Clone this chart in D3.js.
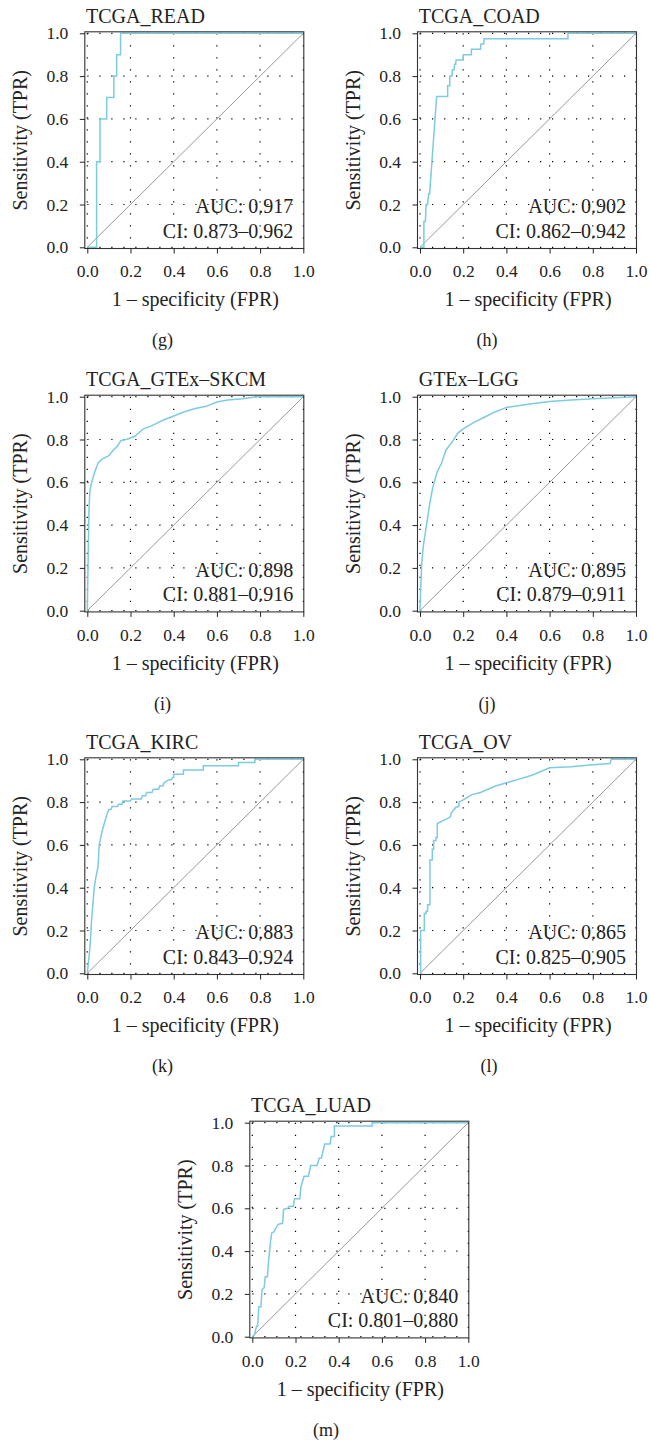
<!DOCTYPE html>
<html>
<head>
<meta charset="utf-8">
<script src="https://cdn.jsdelivr.net/npm/d3@7"></script>
<style>
  body { margin: 0; background: #fff; }
  svg { display: block; font-family: "Liberation Serif", "Times New Roman", serif; }
</style>
</head>
<body>
<svg id="chart" width="650" height="1442"></svg>
<script>
// ROC curves (fpr = 1 - specificity, tpr = sensitivity)
const readFpr = [0, 0.043, 0.043, 0.059, 0.059, 0.09, 0.09, 0.123, 0.123, 0.136, 0.136, 0.154, 0.154, 1];
const readTpr = [0, 0, 0.4, 0.4, 0.6, 0.6, 0.7, 0.7, 0.8, 0.8, 0.9, 0.9, 1, 1];

const coadFpr = [0, 0.018, 0.018, 0.025, 0.028, 0.035, 0.04, 0.045, 0.048, 0.077, 0.128, 0.128, 0.138, 0.138, 0.148, 0.15, 0.158, 0.16, 0.165, 0.167, 0.2, 0.2, 0.238, 0.238, 0.28, 0.282, 0.295, 0.297, 0.685, 0.685, 1];
const coadTpr = [0, 0, 0.12, 0.12, 0.2, 0.2, 0.25, 0.25, 0.3, 0.705, 0.705, 0.755, 0.755, 0.8, 0.8, 0.83, 0.83, 0.855, 0.855, 0.875, 0.875, 0.9, 0.9, 0.925, 0.925, 0.95, 0.95, 0.975, 0.975, 1, 1];

const skcmFpr = [0, 0.004, 0.008, 0.012, 0.02, 0.035, 0.05, 0.07, 0.1, 0.12, 0.14, 0.155, 0.18, 0.22, 0.26, 0.3, 0.35, 0.4, 0.45, 0.5, 0.55, 0.6, 0.65, 0.72, 0.75, 0.79, 1];
const skcmTpr = [0, 0.25, 0.48, 0.56, 0.6, 0.65, 0.69, 0.71, 0.725, 0.75, 0.77, 0.795, 0.8, 0.815, 0.85, 0.865, 0.89, 0.91, 0.93, 0.945, 0.955, 0.975, 0.985, 0.99, 0.995, 1, 1];

const lggFpr = [0, 0.004, 0.008, 0.015, 0.03, 0.045, 0.06, 0.08, 0.1, 0.12, 0.15, 0.175, 0.2, 0.25, 0.3, 0.35, 0.4, 0.5, 0.6, 0.7, 0.8, 0.9, 1];
const lggTpr = [0, 0.12, 0.22, 0.3, 0.4, 0.5, 0.58, 0.65, 0.69, 0.75, 0.79, 0.83, 0.85, 0.88, 0.905, 0.93, 0.95, 0.965, 0.978, 0.985, 0.99, 0.995, 1];

const kircFpr = [0, 0.012, 0.02, 0.032, 0.04, 0.05, 0.055, 0.07, 0.09, 0.1, 0.11, 0.115, 0.14, 0.145, 0.16, 0.165, 0.2, 0.205, 0.25, 0.255, 0.27, 0.275, 0.3, 0.305, 0.33, 0.335, 0.35, 0.355, 0.37, 0.38, 0.39, 0.395, 0.4, 0.4, 0.445, 0.445, 0.537, 0.537, 0.7, 0.7, 0.776, 0.776, 1];
const kircTpr = [0, 0.117, 0.25, 0.4, 0.45, 0.5, 0.6, 0.67, 0.74, 0.765, 0.765, 0.78, 0.78, 0.79, 0.79, 0.805, 0.805, 0.815, 0.815, 0.83, 0.83, 0.845, 0.845, 0.86, 0.86, 0.875, 0.875, 0.89, 0.9, 0.905, 0.905, 0.915, 0.915, 0.93, 0.93, 0.95, 0.95, 0.97, 0.97, 0.985, 0.985, 1, 1];

const ovFpr = [0, 0.003, 0.003, 0.02, 0.02, 0.028, 0.028, 0.035, 0.035, 0.046, 0.046, 0.057, 0.057, 0.063, 0.063, 0.074, 0.074, 0.08, 0.08, 0.14, 0.145, 0.165, 0.18, 0.18, 0.2, 0.24, 0.28, 0.35, 0.4, 0.45, 0.5, 0.53, 0.6, 0.7, 0.8, 0.88, 0.885, 1];
const ovTpr = [0, 0, 0.2, 0.2, 0.28, 0.28, 0.29, 0.29, 0.32, 0.32, 0.53, 0.53, 0.58, 0.58, 0.62, 0.62, 0.635, 0.635, 0.7, 0.73, 0.75, 0.775, 0.78, 0.8, 0.81, 0.835, 0.845, 0.875, 0.89, 0.905, 0.92, 0.93, 0.96, 0.965, 0.975, 0.98, 1, 1];

const luadFpr = [0, 0.01, 0.02, 0.025, 0.03, 0.04, 0.045, 0.055, 0.06, 0.07, 0.075, 0.085, 0.09, 0.1, 0.11, 0.12, 0.14, 0.145, 0.165, 0.17, 0.19, 0.195, 0.22, 0.225, 0.24, 0.26, 0.27, 0.3, 0.31, 0.32, 0.335, 0.36, 0.365, 0.38, 0.38, 0.555, 0.555, 1];
const luadTpr = [0, 0.01, 0.05, 0.05, 0.14, 0.14, 0.22, 0.23, 0.28, 0.28, 0.35, 0.45, 0.485, 0.49, 0.51, 0.525, 0.53, 0.595, 0.6, 0.61, 0.61, 0.645, 0.645, 0.7, 0.75, 0.75, 0.8, 0.8, 0.835, 0.835, 0.9, 0.9, 0.935, 0.935, 0.985, 0.985, 1, 1];

const titles = ["TCGA_READ", "TCGA_COAD", "TCGA_GTEx\u2013SKCM", "GTEx\u2013LGG", "TCGA_KIRC", "TCGA_OV", "TCGA_LUAD"];
const aucLabels = ["0.917", "0.902", "0.898", "0.895", "0.883", "0.865", "0.840"];
const ciLabels = ["0.873\u20130.962", "0.862\u20130.942", "0.881\u20130.916", "0.879\u20130.911", "0.843\u20130.924", "0.825\u20130.905", "0.801\u20130.880"];
const panelTags = ["(g)", "(h)", "(i)", "(j)", "(k)", "(l)", "(m)"];
const gridTicks = [0, 0.2, 0.4, 0.6, 0.8, 1.0];

const curves = [
  [readFpr, readTpr], [coadFpr, coadTpr], [skcmFpr, skcmTpr], [lggFpr, lggTpr],
  [kircFpr, kircTpr], [ovFpr, ovTpr], [luadFpr, luadTpr]
];

// where each panel's unit square sits on the page
const W = 216, H = 214;
const spots = [
  {left: 87.3, top: 33.3, mid: 162.5}, {left: 420, top: 33.3, mid: 487},
  {left: 87.3, top: 396.7, mid: 162.5}, {left: 420, top: 396.7, mid: 487},
  {left: 87.3, top: 759.3, mid: 162.5}, {left: 420, top: 759.3, mid: 489},
  {left: 252.3, top: 1122.7, mid: 326}
];

const svg = d3.select('#chart');
const fmt = d3.format('.1f');

curves.forEach((c, i) => {
  const s = spots[i];
  const x = d3.scaleLinear().domain([0, 1]).range([s.left, s.left + W]);
  const y = d3.scaleLinear().domain([0, 1]).range([s.top + H, s.top]);
  const g = svg.append('g').attr('class', 'panel');

  // dotted grid
  g.selectAll('.vgrid').data(gridTicks).enter().append('line')
    .attr('x1', d => x(d)).attr('x2', d => x(d))
    .attr('y1', y(1)).attr('y2', y(0))
    .attr('stroke', '#000').attr('stroke-width', 1.2)
    .attr('stroke-dasharray', '1.2 10.8');
  g.selectAll('.hgrid').data(gridTicks).enter().append('line')
    .attr('x1', x(0)).attr('x2', x(1))
    .attr('y1', d => y(d)).attr('y2', d => y(d))
    .attr('stroke', '#000').attr('stroke-width', 1.2)
    .attr('stroke-dasharray', '1.2 10.8');

  // chance diagonal
  g.append('line')
    .attr('x1', x(0)).attr('y1', y(0)).attr('x2', x(1)).attr('y2', y(1))
    .attr('stroke', '#999').attr('stroke-width', 1);

  // roc curve
  const line = d3.line().x(d => x(d[0])).y(d => y(d[1]));
  g.append('path')
    .datum(d3.zip(c[0], c[1]))
    .attr('d', line)
    .attr('fill', 'none')
    .attr('stroke', '#7ccbe0')
    .attr('stroke-width', 1.5);

  // frame
  const bx = x(0) - 2.5, by = y(1) - 1.5;
  g.append('rect')
    .attr('x', bx).attr('y', by)
    .attr('width', W + 3).attr('height', H + 2.7)
    .attr('fill', 'none').attr('stroke', '#333').attr('stroke-width', 1.1);

  // axes
  const xAxis = d3.axisBottom(x).tickValues(gridTicks).tickFormat(fmt)
    .tickSize(5).tickPadding(11.5).tickSizeOuter(0);
  const yAxis = d3.axisLeft(y).tickValues(gridTicks).tickFormat(fmt)
    .tickSize(5).tickPadding(11.5).tickSizeOuter(0);

  g.append('g')
    .attr('transform', `translate(0,${by + H + 2.7})`)
    .call(xAxis)
    .call(a => a.select('.domain').remove())
    .attr('font-family', null).attr('font-size', 17.5)
    .style('color', '#222');

  g.append('g')
    .attr('transform', `translate(${bx},0)`)
    .call(yAxis)
    .call(a => a.select('.domain').remove())
    .attr('font-family', null).attr('font-size', 17.5)
    .style('color', '#222');

  g.selectAll('.tick text').attr('fill', '#222');

  // titles and labels
  g.append('text')
    .attr('x', x(0) - 1.3).attr('y', y(1) - 10.6)
    .attr('font-size', 20).attr('fill', '#222')
    .text(titles[i]);

  g.append('text')
    .attr('x', x(0.954)).attr('y', y(0) - 34)
    .attr('text-anchor', 'end')
    .attr('font-size', 20).attr('fill', '#222')
    .text('AUC: ' + aucLabels[i]);

  g.append('text')
    .attr('x', x(0.954)).attr('y', y(0) - 9.5)
    .attr('text-anchor', 'end')
    .attr('font-size', 20).attr('fill', '#222')
    .text('CI: ' + ciLabels[i]);

  g.append('text')
    .attr('transform', `translate(${x(0) - 60},${(y(0) + y(1)) / 2}) rotate(-90)`)
    .attr('text-anchor', 'middle')
    .attr('font-size', 20).attr('fill', '#222')
    .text('Sensitivity (TPR)');

  g.append('text')
    .attr('x', (x(0) + x(1)) / 2).attr('y', y(0) + 59)
    .attr('text-anchor', 'middle')
    .attr('font-size', 20).attr('fill', '#222')
    .text('1 \u2013 specificity (FPR)');

  g.append('text')
    .attr('x', s.mid).attr('y', y(0) + 99)
    .attr('text-anchor', 'middle')
    .attr('font-size', 18).attr('fill', '#222')
    .text(panelTags[i]);
});
</script>
</body>
</html>
